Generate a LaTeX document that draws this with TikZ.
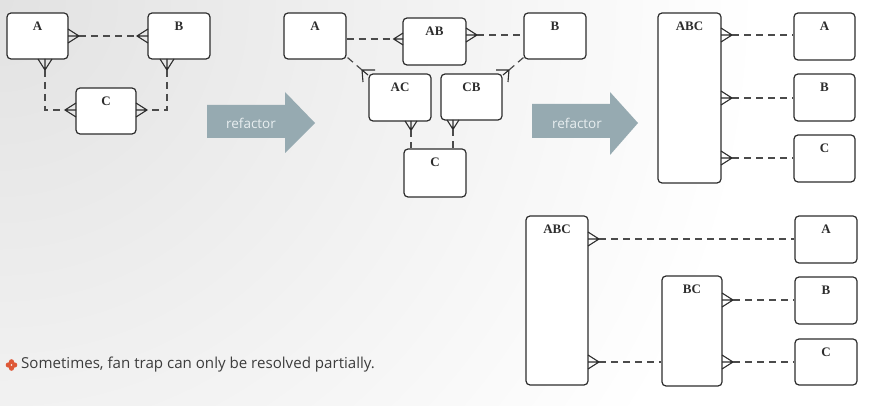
\documentclass[tikz,border=0pt]{standalone}
\usepackage{fontspec}
\setmainfont{Open Sans}
\newfontfamily\labfont{Liberation Serif}
\definecolor{bgg}{RGB}{226,226,226}
\definecolor{boxc}{RGB}{45,45,45}
\definecolor{connc}{RGB}{75,75,75}
\definecolor{arrc}{RGB}{150,170,177}
\definecolor{arrt}{RGB}{232,238,240}
\definecolor{txtc}{RGB}{60,60,60}
\definecolor{iconc}{RGB}{222,88,55}
\tikzset{
  box/.style={draw=boxc, fill=white, line width=1.2pt, rounded corners=4pt, inner sep=0pt},
  lab/.style={font=\labfont\bfseries\fontsize{13}{13}\selectfont, text=boxc, inner sep=0pt},
  conn/.style={draw=connc, line width=1.2pt, dash pattern=on 7pt off 5pt},
  crowline/.style={draw=boxc, line width=1.1pt, line join=miter},
  crow/.pic={\draw[crowline] (0,-7) -- (11,0) -- (0,7) (0,0) -- (11,0);
             \coordinate (-tip) at (11,0);},
  reftext/.style={font=\fontsize{13.5}{13.5}\selectfont, text=arrt, inner sep=0pt},
  bigarrow/.style={fill=arrc}
}
\newcommand\ebox[6]{\node[box, minimum width=#4pt, minimum height=#5pt] (#1) at (#2,#3) {};
  \node[lab] (#1t) at ([yshift=-13.5pt]#1.north) {#6};}
\begin{document}
\begin{tikzpicture}[x=1pt,y=-1pt]
\useasboundingbox (0,0) rectangle (871,406);
\begin{scope}
\clip (0,0) rectangle (871,406);
\fill[white] (0,0) rectangle (871,406);
\shade[inner color=bgg, outer color=white] (0,0) circle (760);
\end{scope}

% ---------- panel 1
\ebox{A1}{37.5}{36}{61}{46}{A}
\ebox{B1}{179}{36}{62}{46}{B}
\ebox{C1}{106}{111}{60}{46}{C}
\pic (fA1r) at (68,36) {crow};
\pic[rotate=180] (fB1l) at (148,36) {crow};
\pic[rotate=-90] (fA1b) at (45,59) {crow};
\pic[rotate=-90] (fB1b) at (167,59) {crow};
\pic[rotate=180] (fC1l) at (76,110) {crow};
\pic (fC1r) at (136,110) {crow};
\draw[conn] (fA1r-tip) -- (fB1l-tip);
\draw[conn] (fA1b-tip) |- (fC1l-tip);
\draw[conn] (fB1b-tip) |- (fC1r-tip);

% ---------- arrow 1
\fill[bigarrow] (207,105) -- (285,105) -- (285,92) -- (315,123) -- (285,153) -- (285,138) -- (207,138) -- cycle;
\node[reftext] (r1) at (251,123) {refactor};

% ---------- panel 2
\ebox{A2}{315}{36}{62}{46}{A}
\ebox{AB}{434.5}{41.5}{63}{47}{AB}
\ebox{B2}{555}{36}{62}{46}{B}
\ebox{AC}{400}{97.5}{62}{47}{AC}
\ebox{CB}{471.5}{97}{61}{46}{CB}
\ebox{C2}{435}{173}{62}{48}{C}
\pic[rotate=180, scale=0.85] (fABl) at (403,39) {crow};
\pic (fABr) at (466,35) {crow};
\draw[conn] (fABl-tip -| A2.east) -- (fABl-tip);
\draw[conn] (fABr-tip) -- (fABr-tip -| B2.west);
% A2 -- AC (diagonal)
\coordinate (dA) at (362,70);
\draw[conn] ([shift={(1,-2)}]A2.south east) -- (dA);
\draw[crowline] (dA) -- (375,70) (dA) -- (363,82) (dA) -- (368,75);
% B2 -- CB (diagonal)
\coordinate (dB) at (509,70);
\draw[conn] ([shift={(0,-2)}]B2.south west) -- (dB);
\draw[crowline] (dB) -- (496,70) (dB) -- (508,82) (dB) -- (503,75);
\pic[rotate=-90, scale=0.85] (fACb) at (411,121) {crow};
\pic[rotate=-90, scale=0.85] (fCBb) at (453,120) {crow};
\draw[conn] (fACb-tip) -- (fACb-tip |- C2.north);
\draw[conn] (fCBb-tip) -- (fCBb-tip |- C2.north);

% ---------- arrow 2
\fill[bigarrow] (532,104) -- (610,104) -- (610,92) -- (638,123) -- (610,155) -- (610,138) -- (532,138) -- cycle;
\node[reftext] (r2) at (577,123) {refactor};

% ---------- panel 3
\ebox{ABC3}{689.5}{98}{63}{170}{ABC}
\ebox{A3}{824.5}{36.5}{61}{47}{A}
\ebox{B3}{824.5}{97.5}{61}{47}{B}
\ebox{C3}{824.5}{158.5}{61}{47}{C}
\pic (f3a) at (721,35) {crow};
\pic (f3b) at (721,98) {crow};
\pic (f3c) at (721,158) {crow};
\draw[conn] (f3a-tip) -- (f3a-tip -| A3.west);
\draw[conn] (f3b-tip) -- (f3b-tip -| B3.west);
\draw[conn] (f3c-tip) -- (f3c-tip -| C3.west);

% ---------- panel 4
\ebox{ABC4}{557}{300.5}{62}{169}{ABC}
\ebox{A4}{826}{239.5}{62}{47}{A}
\ebox{BC4}{692}{331}{60}{110}{BC}
\ebox{B4}{826}{300.5}{62}{47}{B}
\ebox{C4}{826}{362}{62}{46}{C}
\pic (f4a) at (588,239) {crow};
\pic (f4b) at (588,362) {crow};
\pic (f4c) at (722,300) {crow};
\pic (f4d) at (722,362) {crow};
\draw[conn] (f4a-tip) -- (f4a-tip -| A4.west);
\draw[conn] (f4b-tip) -- (f4b-tip -| BC4.west);
\draw[conn] (f4c-tip) -- (f4c-tip -| B4.west);
\draw[conn] (f4d-tip) -- (f4d-tip -| C4.west);

% ---------- note
\fill[iconc] (11.5,361.8) circle (2.6) (11.5,368.2) circle (2.6) (8.3,365) circle (2.6) (14.7,365) circle (2.6);
\fill[white] (11.5,365) circle (0.7);
\node[anchor=base west, font=\fontsize{15.1}{15.1}\selectfont, text=txtc, inner sep=0pt] (note) at (21,369) {Sometimes, fan trap can only be resolved partially.};
\end{tikzpicture}
\end{document}
